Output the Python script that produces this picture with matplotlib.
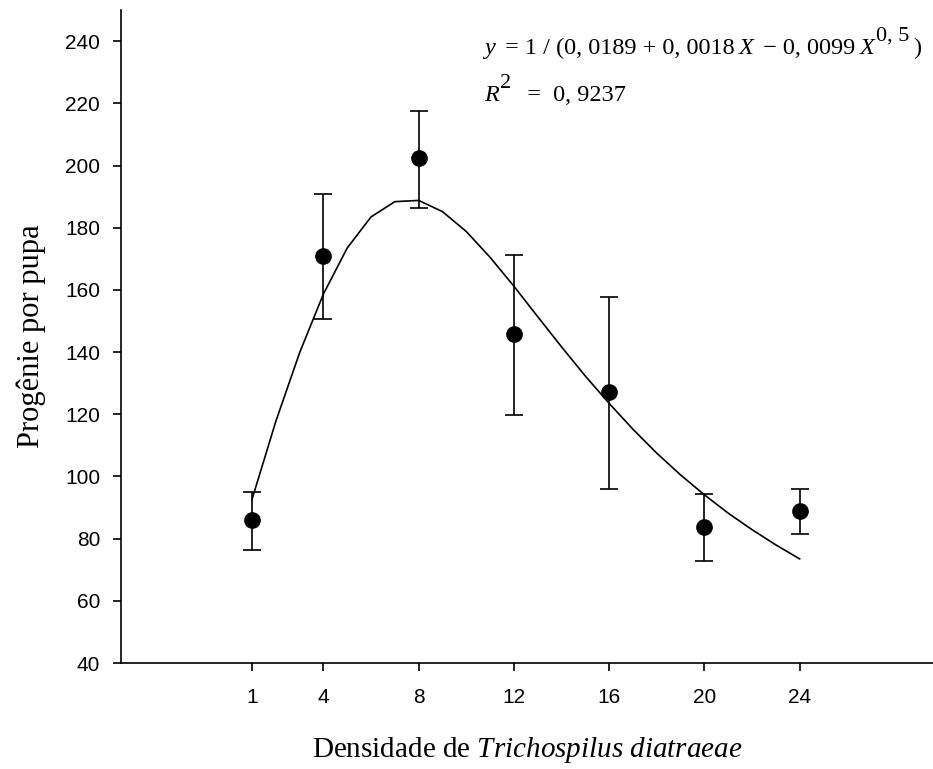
import matplotlib
matplotlib.use("Agg")
import matplotlib.pyplot as plt

plt.rcParams['mathtext.fontset'] = 'custom'
plt.rcParams['mathtext.rm'] = 'Liberation Serif'
plt.rcParams['mathtext.it'] = 'Liberation Serif:italic'

# measured densities and mean progeny per pupa
dens = [1, 4, 8, 12, 16, 20, 24]
mean = [86.0, 171.0, 202.3, 145.7, 127.2, 83.8, 89.0]
err_low = [9.7, 20.5, 15.8, 26.0, 31.3, 11.1, 7.6]
err_high = [9.1, 19.8, 15.2, 25.5, 30.6, 10.5, 6.9]

fit_x = list(range(1, 25))
fit_y = [92.6, 117.7, 139.8, 158.7, 173.5, 183.5, 188.4, 188.8, 185.2, 178.8,
         170.5, 161.2, 151.4, 141.7, 132.3, 123.5, 115.2, 107.5, 100.5, 94.1,
         88.2, 82.9, 78.0, 73.5]

tick_x = [1, 4, 8, 12, 16, 20, 24]
tick_y = list(range(40, 241, 20))

# equation pieces: (text, italic, superscript)
eq_line1 = [("y", True, False), (" = 1 / (0, 0189 + 0, 0018", False, False),
            ("X", True, False), (" \u2212 0, 0099", False, False),
            ("X", True, False), ("0, 5", False, True), (")", False, False)]
eq_line2 = [("R", True, False), ("2", False, True), ("  =  0, 9237", False, False)]

fig = plt.figure(figsize=(9.33, 7.69), dpi=100)
ax = fig.add_axes([0.1297, 0.1378, 0.8703, 0.849])

ax.plot(fit_x, fit_y, color='black', lw=1.2)
ax.errorbar(dens, mean, yerr=[err_low, err_high], fmt='o', color='black',
            ms=11, elinewidth=1.2, capsize=6.5, capthick=1.2)

ax.set_xlim(-4.5, 29.6)
ax.set_ylim(40, 250)
ax.set_xticks(tick_x)
ax.set_yticks(tick_y)
for s in ['top', 'right']:
    ax.spines[s].set_visible(False)
for s in ['left', 'bottom']:
    ax.spines[s].set_linewidth(1.2)
ax.tick_params(axis='both', direction='out', length=6, width=1.2,
               labelsize=15)
ax.tick_params(axis='y', pad=9)
ax.tick_params(axis='x', pad=12)
for lab in ax.get_xticklabels() + ax.get_yticklabels():
    lab.set_family('Liberation Sans')

ax.set_ylabel('Progênie por pupa', family='Liberation Serif', fontsize=22,
              labelpad=14)
ax.set_xlabel(r'Densidade de $\it{Trichospilus\ diatraeae}$',
              family='Liberation Serif', fontsize=21, labelpad=20)

# write the equation piece by piece so the superscripts stay large
renderer = fig.canvas.get_renderer()
W, H = fig.bbox.width, fig.bbox.height


def write_line(pieces, x0, y0, size=17.5, sup_size=16, raise_px=13):
    x = x0
    for i, (txt, ital, sup) in enumerate(pieces):
        dy = raise_px / H if sup else 0.0
        t = fig.text(x, y0 + dy, txt, fontsize=sup_size if sup else size,
                     family='Liberation Serif',
                     style='italic' if ital else 'normal',
                     ha='left', va='baseline')
        bb = t.get_window_extent(renderer)
        nxt_sup = i + 1 < len(pieces) and pieces[i + 1][2]
        x = bb.x1 / W + (1.0 if nxt_sup else 4.0) / W


write_line(eq_line1, 0.519, 1 - 54 / 769)
write_line(eq_line2, 0.519, 1 - 101 / 769)

fig.savefig('out.png', dpi=100)
